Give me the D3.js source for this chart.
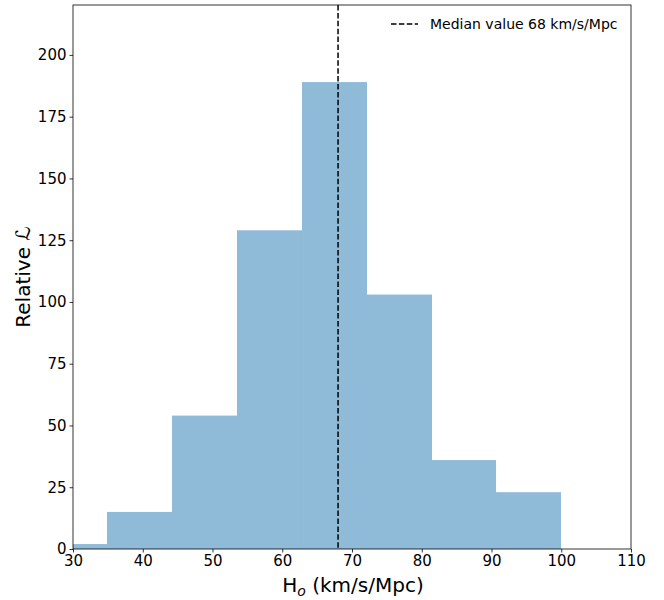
<!DOCTYPE html>
<html><head><meta charset="utf-8">
<script src="https://cdn.jsdelivr.net/npm/d3@7"></script>
<style>body{margin:0;background:#fff}svg{font-family:"DejaVu Sans",sans-serif}</style>
</head><body>
<svg id="c" width="664" height="600"></svg>
<script>
const binEdges = [25.55, 34.87, 44.19, 53.51, 62.83, 72.15, 81.47, 90.65, 99.96];
const counts = [2, 15, 54, 129, 189, 103, 36, 23];
const xTicks = [30, 40, 50, 60, 70, 80, 90, 100, 110];
const yTicks = [0, 25, 50, 75, 100, 125, 150, 175, 200];
const medianValue = 68;
const legendLabel = "Median value 68 km/s/Mpc";

const svg = d3.select("#c");
const L = 73, R = 631, T = 5, B = 549;
const x = d3.scaleLinear().domain([30, 110]).range([L, R]);
const y = d3.scaleLinear().domain([0, 220.2]).range([B, T]);

svg.append("defs").append("clipPath").attr("id", "clip")
  .append("rect").attr("x", L).attr("y", T).attr("width", R - L).attr("height", B - T);

const bins = counts.map((c, i) => ({x0: binEdges[i], x1: binEdges[i + 1], c}));
svg.append("g").attr("clip-path", "url(#clip)").selectAll("rect").data(bins).join("rect")
  .attr("x", d => x(d.x0)).attr("width", d => x(d.x1) - x(d.x0))
  .attr("y", d => y(d.c)).attr("height", d => y(0) - y(d.c))
  .attr("fill", "#1f77b4").attr("fill-opacity", 0.5);

svg.append("line").attr("x1", x(medianValue)).attr("x2", x(medianValue))
  .attr("y1", T).attr("y2", B).attr("stroke", "#000").attr("stroke-width", 1.5)
  .attr("stroke-dasharray", "5.5,2.4");

const xa = svg.append("g").attr("transform", `translate(0,${B})`)
  .call(d3.axisBottom(x).tickValues(xTicks).tickSize(3.5).tickPadding(3));
const ya = svg.append("g").attr("transform", `translate(${L},0)`)
  .call(d3.axisLeft(y).tickValues(yTicks).tickSize(3.5).tickPadding(3));
[xa, ya].forEach(a => {
  a.select(".domain").remove();
  a.selectAll("text").attr("font-size", 15).attr("fill", "#000").attr("font-family", "DejaVu Sans");
  a.selectAll("line").attr("stroke", "#000").attr("stroke-width", 0.8);
});

svg.append("rect").attr("x", L).attr("y", T).attr("width", R - L).attr("height", B - T)
  .attr("fill", "none").attr("stroke", "#000").attr("stroke-width", 0.8);

// legend
svg.append("line").attr("x1", 391).attr("x2", 418).attr("y1", 24).attr("y2", 24)
  .attr("stroke", "#000").attr("stroke-width", 1.5).attr("stroke-dasharray", "5.5,2.4");
svg.append("text").attr("x", 430).attr("y", 29).attr("font-size", 14).text(legendLabel);

// x label
const xl = svg.append("text").attr("x", (L + R) / 2 + 1).attr("y", 592).attr("text-anchor", "middle")
  .attr("font-size", 20);
xl.append("tspan").text("H");
xl.append("tspan").attr("font-style", "italic").attr("font-size", 14).attr("dy", 4).text("o");
xl.append("tspan").attr("dy", -4).text(" (km/s/Mpc)");

// y label
const yl = svg.append("text").attr("transform", `translate(30,${(T + B) / 2}) rotate(-90)`)
  .attr("text-anchor", "middle").attr("font-size", 20);
yl.append("tspan").text("Relative ");
yl.append("tspan").attr("font-style", "italic").text("ℒ");
</script>
</body></html>
